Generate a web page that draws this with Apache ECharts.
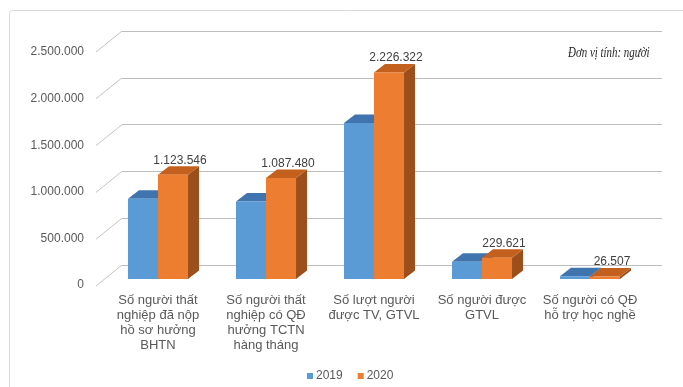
<!DOCTYPE html>
<html>
<head>
<meta charset="utf-8">
<script src="https://cdn.jsdelivr.net/npm/echarts@6/dist/echarts.min.js"></script>
<style>
  html, body { margin: 0; padding: 0; background: #ffffff; }
  #chart { width: 683px; height: 387px; }
</style>
</head>
<body>
<div id="chart"></div>
<script>
// Số liệu bảo hiểm thất nghiệp 2019 – 2020
const categories = [
  'Số người thất\nnghiệp đã nộp\nhồ sơ hưởng\nBHTN',
  'Số người thất\nnghiệp có QĐ\nhưởng TCTN\nhàng tháng',
  'Số lượt người\nđược TV, GTVL',
  'Số người được\nGTVL',
  'Số người có QĐ\nhỗ trợ học nghề'
];
const values2019 = [865000, 835000, 1680000, 185000, 30000];
const values2020 = [1123546, 1087480, 2226322, 229621, 26507];
const yTicks = [0, 500000, 1000000, 1500000, 2000000, 2500000];
const seriesNames = ['2019', '2020'];
const unitNote = 'Đơn vị tính: người';

const FONT = '"Liberation Sans", Arial, sans-serif';
const Y_MAX = yTicks[yTicks.length - 1];
const Y_STEP = yTicks[1] - yTicks[0];

// 3D depth of the floor/wall and of each column
const WALL_DX = 26, WALL_DY = 21;
const BAR_DX = 11, BAR_DY = 8.5;

const palette = [
  { front: '#5B9BD5', top: '#3F74AE', side: '#34628F' },
  { front: '#ED7D31', top: '#C4601D', side: '#9C4E1B' }
];

function fmt(v) {
  return String(Math.round(v)).replace(/\B(?=(\d{3})+(?!\d))/g, '.');
}

// Column with front face, top face and right side face
function barRenderer(idx, withLabel) {
  const col = palette[idx];
  return function (params, api) {
    const cat = api.value(0);
    const val = api.value(1);
    const base = api.coord([cat, 0]);
    const top = api.coord([cat, val]);
    const band = api.size([1, 0])[0];
    const w = band * 0.278;
    const x0 = idx === 0 ? base[0] - w : base[0];
    const x1 = x0 + w;
    const yt = top[1], yb = base[1];
    const children = [
      {
        type: 'polygon',
        shape: { points: [[x1, yt], [x1 + BAR_DX, yt - BAR_DY], [x1 + BAR_DX, yb - BAR_DY], [x1, yb]] },
        style: { fill: col.side }
      },
      {
        type: 'polygon',
        shape: { points: [[x0, yt], [x0 + BAR_DX, yt - BAR_DY], [x1 + BAR_DX, yt - BAR_DY], [x1, yt]] },
        style: { fill: col.top }
      },
      {
        type: 'rect',
        shape: { x: x0, y: yt, width: w, height: yb - yt },
        style: { fill: col.front }
      }
    ];
    if (withLabel) {
      children.push({
        type: 'text',
        style: {
          text: fmt(val),
          x: (x0 + x1) / 2 + 7,
          y: yt - 8.5,
          align: 'center',
          verticalAlign: 'bottom',
          fill: '#404040',
          fontSize: 12,
          fontFamily: FONT
        }
      });
    }
    return { type: 'group', children: children };
  };
}

// Diagonal tick connectors between the value labels and the back wall
function wallTickRenderer(params, api) {
  const p = api.coord([0, api.value(1)]);
  const x = params.coordSys.x;
  return {
    type: 'line',
    shape: { x1: x, y1: p[1], x2: x - WALL_DX, y2: p[1] + WALL_DY },
    style: { stroke: '#c4c4c4', lineWidth: 1 }
  };
}

const chart = echarts.init(document.getElementById('chart'), null, { renderer: 'canvas' });

chart.setOption({
  backgroundColor: '#ffffff',
  animation: false,
  textStyle: { fontFamily: FONT },
  graphic: [
    {
      type: 'rect',
      shape: { x: 9.5, y: 10.5, width: 720, height: 420, r: 3 },
      style: { fill: 'none', stroke: '#dadada', lineWidth: 1 },
      silent: true
    },
    {
      type: 'text',
      x: 568, y: 53,
      scaleX: 0.78,
      style: {
        text: unitNote,
        fill: '#262626',
        font: 'italic 14px "Liberation Serif", "Times New Roman", serif',
        verticalAlign: 'middle'
      }
    }
  ],
  legend: {
    data: seriesNames,
    top: 365,
    left: 302,
    icon: 'rect',
    itemWidth: 6,
    itemHeight: 6,
    itemGap: 15,
    textStyle: { color: '#595959', fontSize: 12, fontFamily: FONT, padding: [0, 0, 0, -2] }
  },
  grid: [
    // back wall
    { left: 122, right: 21, top: 31, height: 234 },
    // front edge (value labels)
    { left: 96, right: 47, top: 52, height: 233 },
    // columns
    { left: 104, right: 39, top: 47, height: 232 }
  ],
  xAxis: [
    { type: 'category', gridIndex: 0, data: categories, show: false },
    { type: 'category', gridIndex: 1, data: categories, show: false },
    {
      type: 'category', gridIndex: 2, data: categories,
      axisLine: { show: false }, axisTick: { show: false },
      axisLabel: {
        margin: 14, interval: 0,
        color: '#595959', fontSize: 13, lineHeight: 15, fontFamily: FONT
      }
    }
  ],
  yAxis: [
    {
      type: 'value', gridIndex: 0, min: 0, max: Y_MAX, interval: Y_STEP,
      axisLabel: { show: false }, axisLine: { show: false }, axisTick: { show: false },
      splitLine: { lineStyle: { color: '#bdbdbd', width: 1.2 } }
    },
    {
      type: 'value', gridIndex: 1, min: 0, max: Y_MAX, interval: Y_STEP,
      axisLine: { show: false }, axisTick: { show: false }, splitLine: { show: false },
      axisLabel: { margin: 12, color: '#595959', fontSize: 12, fontFamily: FONT, formatter: fmt }
    },
    {
      type: 'value', gridIndex: 2, min: 0, max: Y_MAX, interval: Y_STEP,
      show: false, splitLine: { show: false }
    }
  ],
  series: [
    {
      type: 'custom',
      name: 'ticks',
      xAxisIndex: 0, yAxisIndex: 0,
      silent: true,
      renderItem: wallTickRenderer,
      data: yTicks.map(v => [0, v]),
      encode: { x: 0, y: 1 }
    },
    {
      type: 'custom',
      name: seriesNames[0],
      xAxisIndex: 2, yAxisIndex: 2,
      itemStyle: { color: palette[0].front },
      renderItem: barRenderer(0, false),
      data: values2019.map((v, i) => [i, v]),
      encode: { x: 0, y: 1 }
    },
    {
      type: 'custom',
      name: seriesNames[1],
      xAxisIndex: 2, yAxisIndex: 2,
      itemStyle: { color: palette[1].front },
      renderItem: barRenderer(1, true),
      data: values2020.map((v, i) => [i, v]),
      encode: { x: 0, y: 1 }
    }
  ]
});
</script>
</body>
</html>
